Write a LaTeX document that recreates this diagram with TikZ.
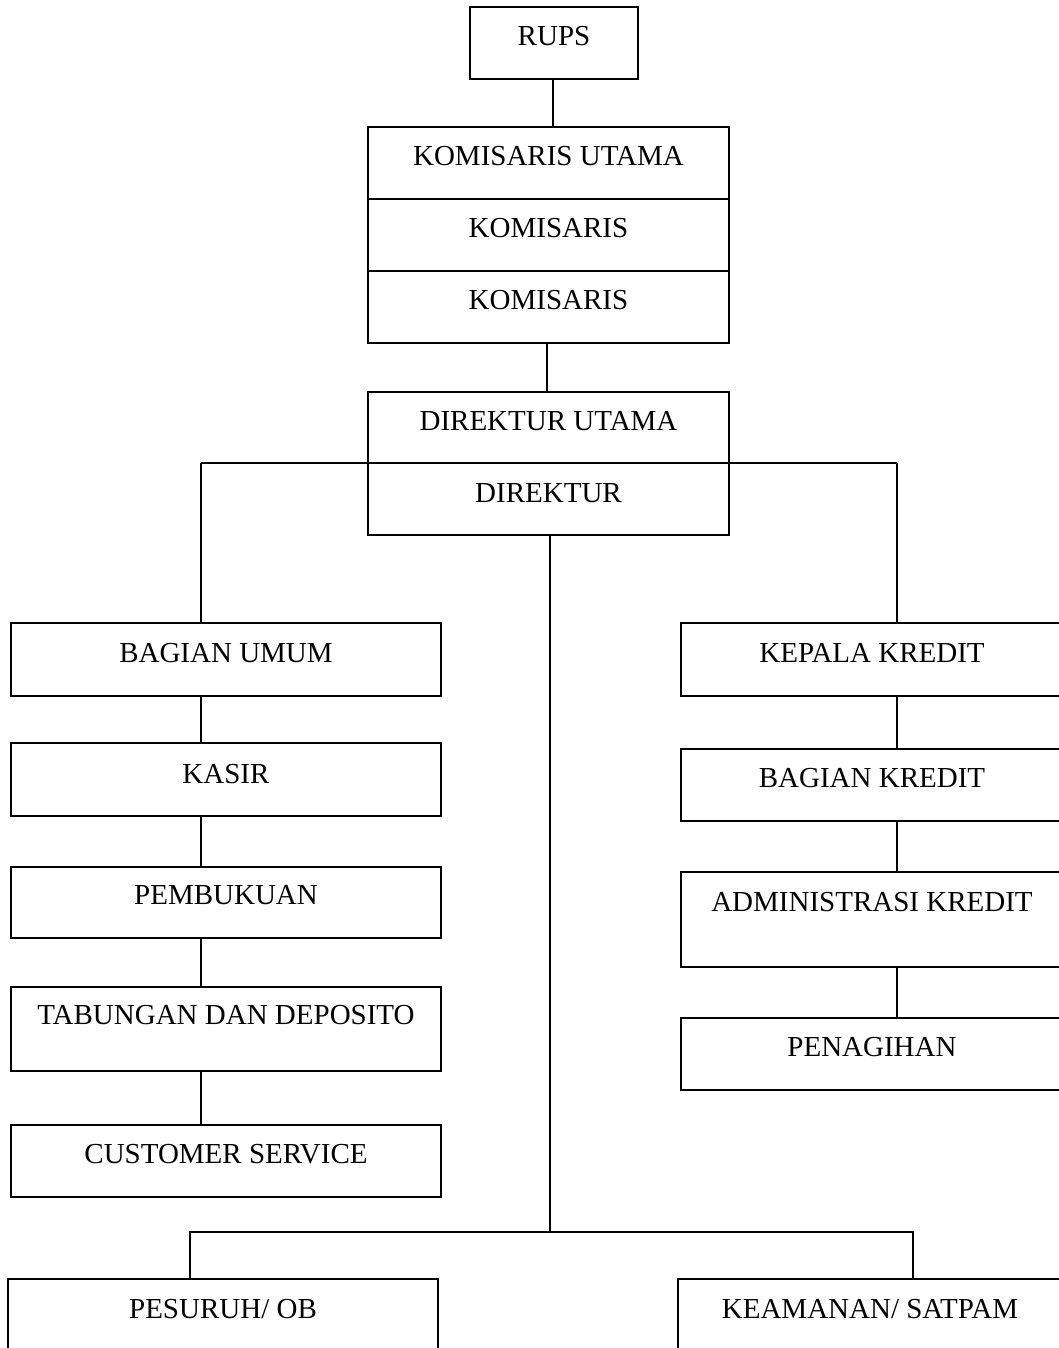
\documentclass[tikz,border=0pt]{standalone}
\usepackage{fontspec}
\setmainfont{Liberation Serif}
\begin{document}
\begin{tikzpicture}[x=1pt,y=-1pt,
  box/.style={draw=black, line width=1.6pt, rectangle, inner sep=0pt, outer sep=0pt, fill=white},
  lbl/.style={anchor=base, inner sep=0pt, font=\fontsize{29}{34}\selectfont},
  wire/.style={draw=black, line width=1.6pt}]
\useasboundingbox (0,0) rectangle (1059,1348);
\clip (0,0) rectangle (1059,1348);

% box: name, left, top, right, bottom, baseline of its text, text
\newcommand\orgbox[7]{%
  \node[box, minimum width={#4-#2}, minimum height={#5-#3}] (#1) at ({(#2+#4)/2},{(#3+#5)/2}) {};
  \node[lbl] (#1-t) at ({(#2+#4)/2},#6) {#7};}

% junction points of the connectors
\coordinate (jl) at (201,463);
\coordinate (jr) at (897,463);
\coordinate (jb) at (550,1232);
\coordinate (bl) at (190,1232);
\coordinate (br) at (913,1232);

% branch to the two columns, drawn behind the director boxes
\draw[wire] (jl) -- (jr);

% top of the hierarchy
\orgbox{rups}{470}{7}{638}{79}{45.7}{RUPS}
\orgbox{kom1}{368}{127}{729}{199}{166}{KOMISARIS UTAMA}
\orgbox{kom2}{368}{199}{729}{271}{238}{KOMISARIS}
\orgbox{kom3}{368}{271}{729}{343}{309}{KOMISARIS}
\orgbox{dirut}{368}{392}{729}{463}{430}{DIREKTUR UTAMA}
\orgbox{dir}{368}{463}{729}{535}{502}{DIREKTUR}

% left column
\orgbox{umum}{11}{623}{441}{696}{662}{BAGIAN UMUM}
\orgbox{kasir}{11}{743}{441}{816}{783}{KASIR}
\orgbox{buku}{11}{867}{441}{938}{904}{PEMBUKUAN}
\orgbox{tab}{11}{987}{441}{1071}{1024}{TABUNGAN DAN DEPOSITO}
\orgbox{cs}{11}{1125}{441}{1197}{1163}{CUSTOMER SERVICE}

% right column
\orgbox{kepala}{681}{623}{1063}{696}{662}{KEPALA KREDIT}
\orgbox{bagkr}{681}{749}{1063}{821}{787}{BAGIAN KREDIT}
\orgbox{adm}{681}{872}{1063}{967}{911}{ADMINISTRASI KREDIT}
\orgbox{tagih}{681}{1018}{1063}{1090}{1056}{PENAGIHAN}

% bottom row
\orgbox{ob}{8}{1279}{438}{1360}{1318}{PESURUH/ OB}
\orgbox{satpam}{678}{1279}{1062}{1360}{1318}{KEAMANAN/ SATPAM}

% vertical links
\draw[wire] (553,79) coordinate (r0) -- (r0 |- kom1.north);
\draw[wire] (kom3.south -| 547,0) -- (dirut.north -| 547,0);
\draw[wire] (jl) -- (jl |- umum.north);
\draw[wire] (jr) -- (jr |- kepala.north);

\draw[wire] (umum.south -| jl) -- (kasir.north -| jl);
\draw[wire] (kasir.south -| jl) -- (buku.north -| jl);
\draw[wire] (buku.south -| jl) -- (tab.north -| jl);
\draw[wire] (tab.south -| jl) -- (cs.north -| jl);

\draw[wire] (kepala.south -| jr) -- (bagkr.north -| jr);
\draw[wire] (bagkr.south -| jr) -- (adm.north -| jr);
\draw[wire] (adm.south -| jr) -- (tagih.north -| jr);

% director down to the support staff
\draw[wire] (dir.south -| jb) -- (jb);
\draw[wire] (bl |- ob.north) -- (bl) -- (br) -- (br |- satpam.north);
\end{tikzpicture}
\end{document}
